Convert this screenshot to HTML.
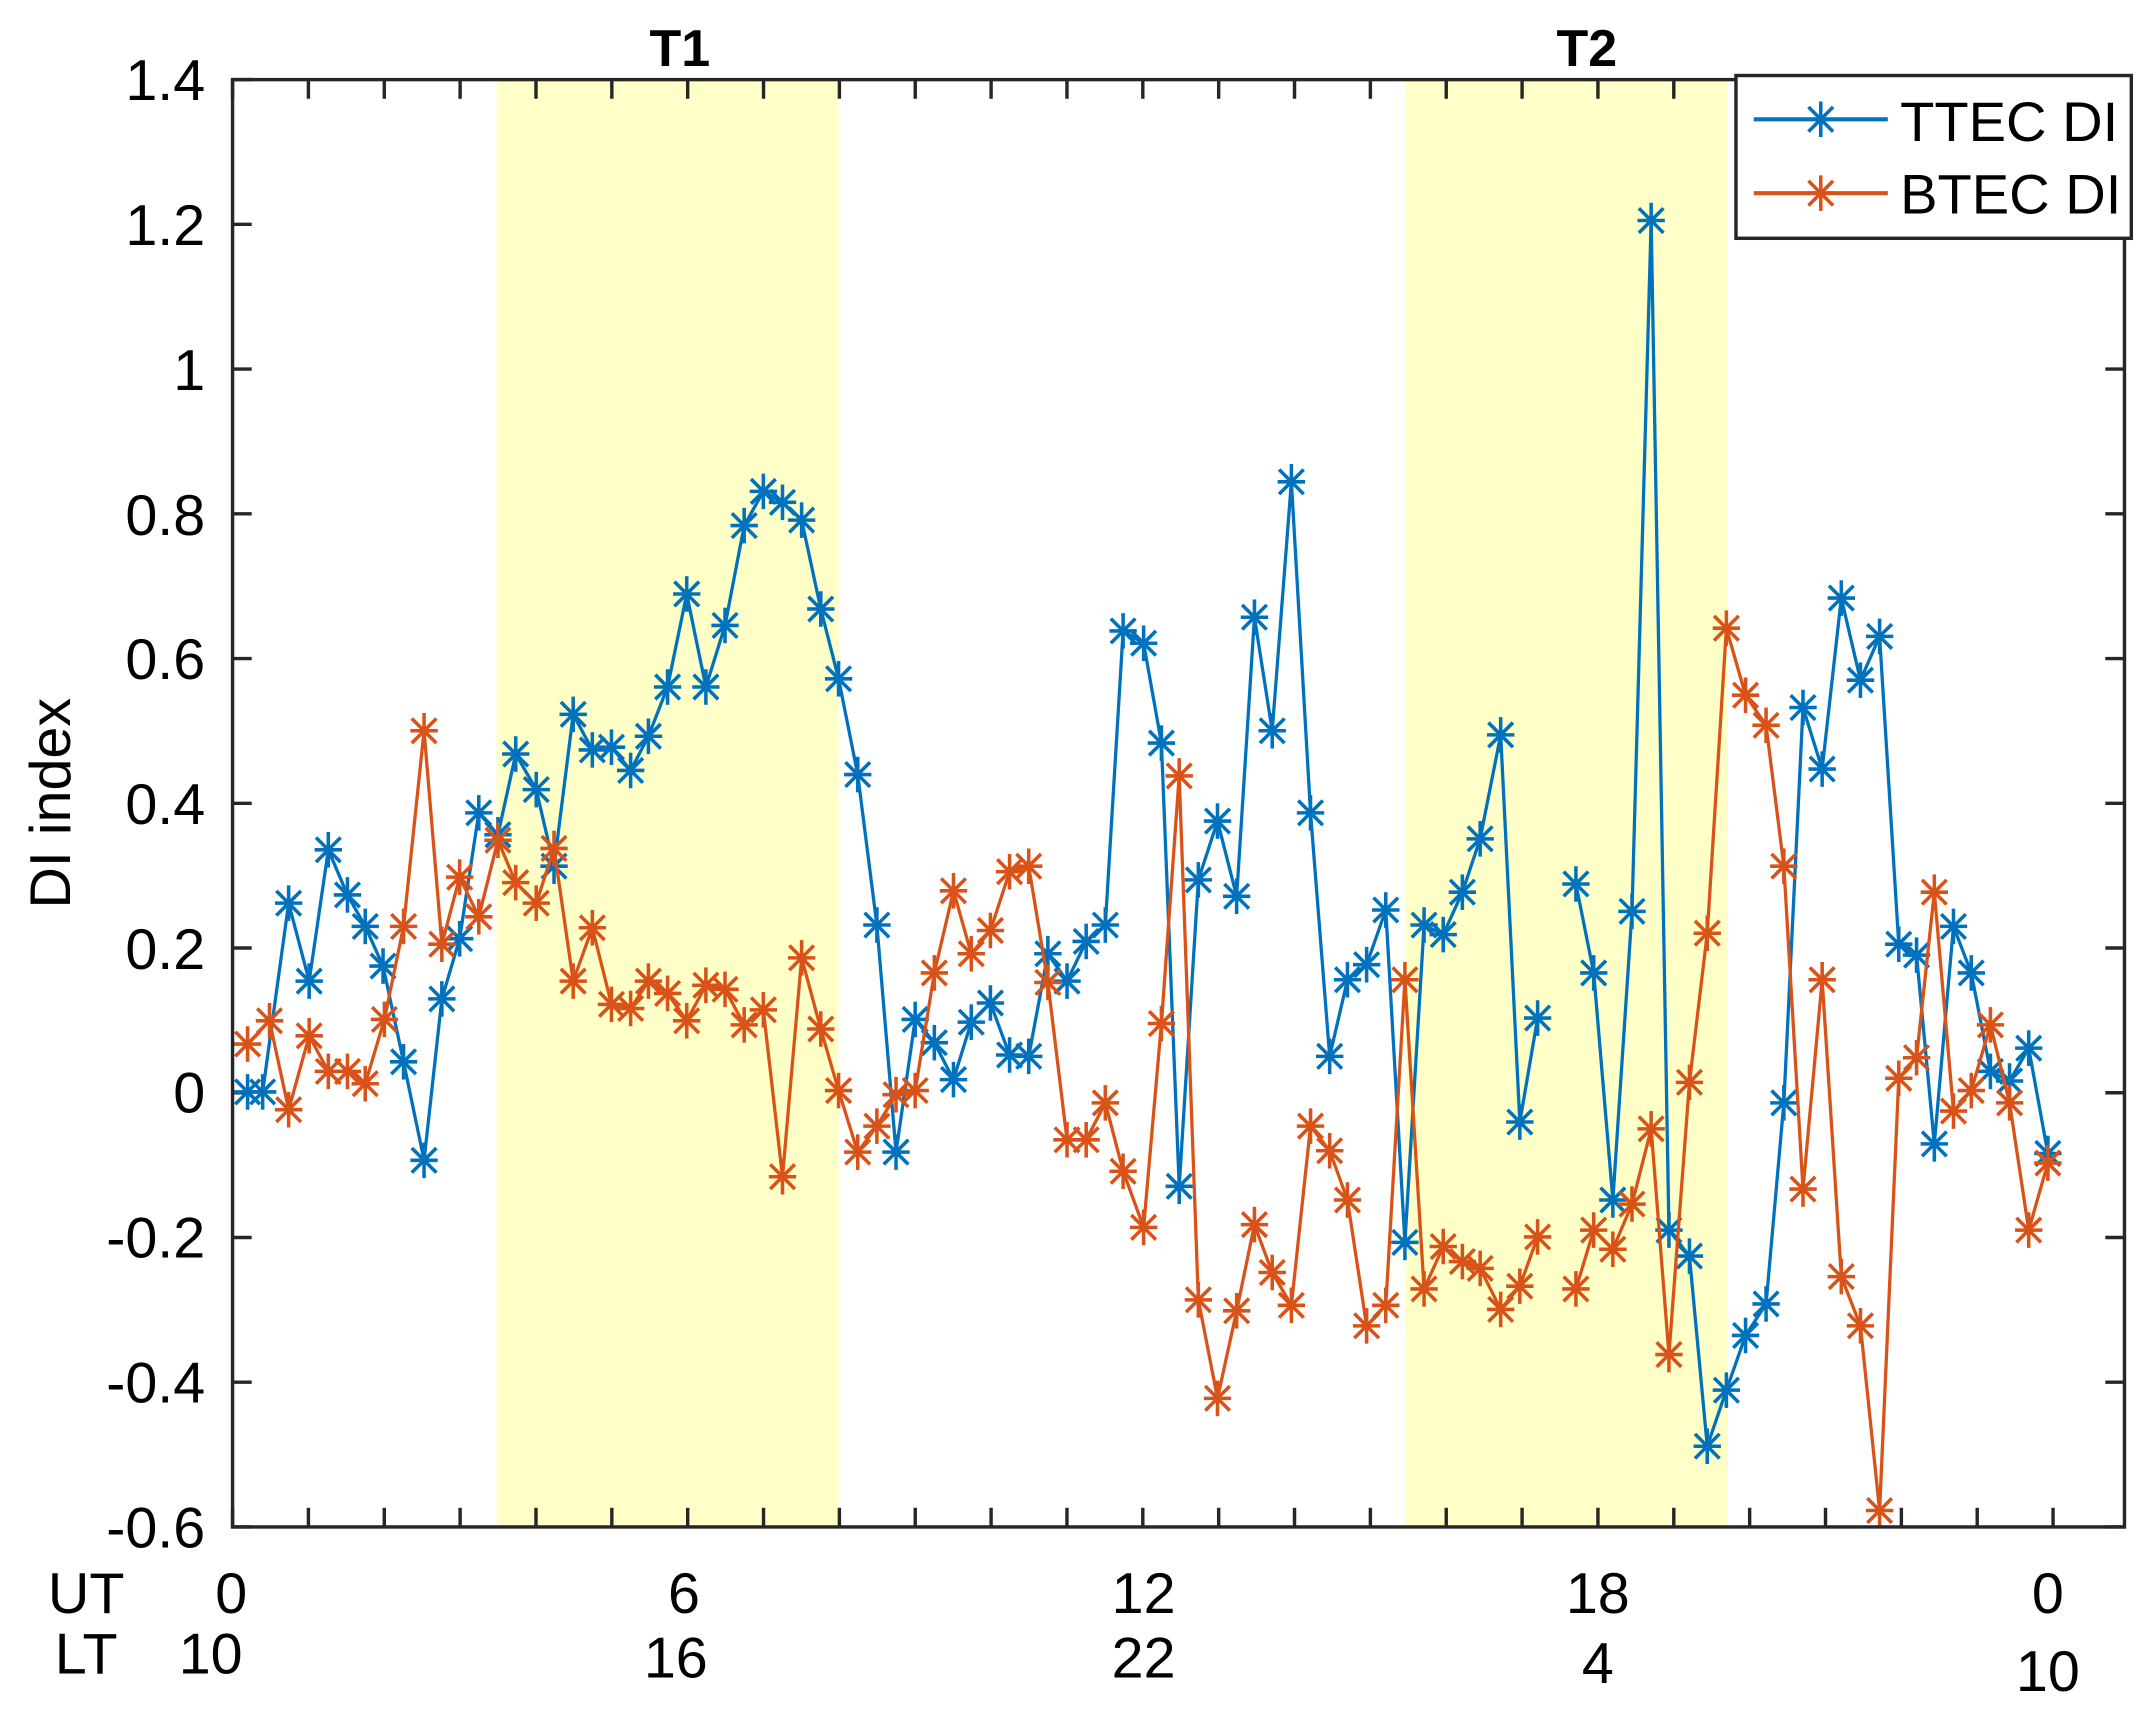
<!DOCTYPE html>
<html><head><meta charset="utf-8"><style>
html,body{margin:0;padding:0;background:#fff}
svg{display:block}
text{font-family:"Liberation Sans",Arial,sans-serif;fill:#000}
</style></head><body>
<svg id="s" xmlns="http://www.w3.org/2000/svg" width="2145" height="1716" viewBox="0 0 1568 1254">
<defs>
<g id="mk" stroke-width="2.6" fill="none">
<line x1="-10" y1="0" x2="10" y2="0"/><line x1="0" y1="-13" x2="0" y2="13"/>
<line x1="-9" y1="-9" x2="9" y2="9"/><line x1="-9" y1="9" x2="9" y2="-9"/>
</g>
</defs>
<rect x="363" y="58" width="250" height="1058" fill="#ffffc8"/>
<rect x="1027" y="58" width="236" height="1058" fill="#ffffc8"/>
<g id="ticks" stroke="#262626" stroke-width="2.5"></g>
<g id="series"></g>
<rect x="170" y="58" width="1383" height="1058" fill="none" stroke="#262626" stroke-width="2.5"/>
<g font-size="42" fill="#262626">
<text x="150" y="73" text-anchor="end">1.4</text>
<text x="150" y="179" text-anchor="end">1.2</text>
<text x="150" y="285" text-anchor="end">1</text>
<text x="150" y="391" text-anchor="end">0.8</text>
<text x="150" y="496" text-anchor="end">0.6</text>
<text x="150" y="602" text-anchor="end">0.4</text>
<text x="150" y="708" text-anchor="end">0.2</text>
<text x="150" y="813" text-anchor="end">0</text>
<text x="150" y="919" text-anchor="end">-0.2</text>
<text x="150" y="1025" text-anchor="end">-0.4</text>
<text x="150" y="1131" text-anchor="end">-0.6</text>
<text transform="translate(51,587) rotate(-90)" text-anchor="middle">DI index</text>
<text x="63" y="1179" text-anchor="middle">UT</text>
<text x="63" y="1223" text-anchor="middle">LT</text>
<text x="169" y="1179" text-anchor="middle">0</text>
<text x="500" y="1179" text-anchor="middle">6</text>
<text x="836" y="1179" text-anchor="middle">12</text>
<text x="1168" y="1179" text-anchor="middle">18</text>
<text x="1497" y="1179" text-anchor="middle">0</text>
<text x="154" y="1223" text-anchor="middle">10</text>
<text x="494" y="1226" text-anchor="middle">16</text>
<text x="836" y="1226" text-anchor="middle">22</text>
<text x="1168" y="1230" text-anchor="middle">4</text>
<text x="1497" y="1236" text-anchor="middle">10</text>
<text x="497" y="48" text-anchor="middle" font-weight="bold" font-size="38">T1</text>
<text x="1160" y="48" text-anchor="middle" font-weight="bold" font-size="38">T2</text>
</g>
<rect x="1269" y="55" width="289" height="119" fill="#fff" stroke="#262626" stroke-width="2.5"/>
<line x1="1282" y1="87" x2="1380" y2="87" stroke="#0072bd" stroke-width="3"/>
<use href="#mk" x="1331" y="87" stroke="#0072bd"/>
<line x1="1282" y1="141" x2="1380" y2="141" stroke="#d95319" stroke-width="3"/>
<use href="#mk" x="1331" y="141" stroke="#d95319"/>
<text x="1389" y="103" font-size="41">TTEC DI</text>
<text x="1389" y="156" font-size="41">BTEC DI</text>
</svg>
<script>
var NS="http://www.w3.org/2000/svg";
var t=document.getElementById("ticks");
function ln(x1,y1,x2,y2,p){var l=document.createElementNS(NS,"line");l.setAttribute("x1",x1);l.setAttribute("y1",y1);l.setAttribute("x2",x2);l.setAttribute("y2",y2);p.appendChild(l);}
for(var h=0;h<=25;h++){var x=170+h*55.45;if(x>1553)break;ln(x,1116,x,1102,t);ln(x,58,x,72,t);}
for(var i=0;i<=10;i++){var y=58+i*105.8;ln(170,y,184,y,t);ln(1553,y,1539,y,t);}
var T=[[[181,798],[192,798],[211,660],[226,717],[240,621],[254,654],[267,677],[280,706],[295,776],[310,848],[323,730],[336,686],[350,594],[364,610],[377,551],[392,577],[405,633],[419,522],[433,548],[447,546],[461,563],[474,538],[488,502],[502,434],[516,502],[530,457],[544,384],[558,359],[572,367],[586,380],[600,445],[613,496],[627,566],[641,676],[655,842],[669,745],[683,762],[697,789],[710,747],[724,733],[738,771],[752,772],[766,697],[780,717],[794,688],[808,676],[821,461],[836,470],[849,543],[862,867],[876,643],[890,600],[904,655],[917,451],[930,534],[944,352],[958,594],[972,772],[985,716],[999,705],[1013,665],[1027,908],[1041,676],[1055,683],[1069,652],[1082,613],[1097,537],[1111,820],[1124,744]],
[[1152,646],[1165,711],[1179,877],[1193,666],[1207,161],[1220,899],[1235,918],[1248,1057],[1262,1016],[1276,976],[1291,953],[1304,806],[1318,517],[1332,562],[1346,437],[1360,497],[1374,465],[1388,690],[1401,698],[1414,836],[1428,677],[1441,711],[1455,783],[1469,790],[1483,766],[1497,843]]];
var B=[[[181,763],[197,746],[211,811],[226,757],[240,783],[254,783],[267,792],[281,745],[295,677],[310,534],[323,690],[336,641],[350,670],[364,614],[377,645],[392,660],[405,620],[419,717],[433,678],[447,734],[461,737],[474,717],[488,726],[502,746],[516,720],[530,723],[544,749],[558,738],[572,860],[586,700],[600,752],[613,797],[627,842],[641,823],[655,800],[669,797],[683,711],[697,651],[710,697],[724,680],[738,637],[752,633],[766,718],[780,833],[794,833],[808,806],[821,856],[836,897],[849,748],[862,567],[876,950],[890,1022],[904,958],[917,895],[930,930],[944,954],[958,823],[972,841],[985,877],[999,969],[1013,954],[1027,716],[1041,942],[1055,911],[1069,922],[1082,927],[1097,957],[1111,940],[1124,904]],
[[1152,942],[1165,899],[1179,913],[1193,880],[1207,825],[1220,990],[1235,791],[1248,682],[1262,459],[1276,508],[1291,530],[1304,633],[1318,869],[1332,716],[1346,933],[1360,969],[1374,1104],[1388,788],[1401,773],[1414,652],[1428,812],[1441,797],[1455,749],[1469,806],[1483,899],[1497,850]]];
var g=document.getElementById("series");
function draw(S,c){S.forEach(function(seg){var p=document.createElementNS(NS,"polyline");p.setAttribute("points",seg.map(function(a){return a.join(",")}).join(" "));p.setAttribute("fill","none");p.setAttribute("stroke",c);p.setAttribute("stroke-width","2.4");g.appendChild(p);
seg.forEach(function(a){var u=document.createElementNS(NS,"use");u.setAttribute("href","#mk");u.setAttribute("x",a[0]);u.setAttribute("y",a[1]);u.setAttribute("stroke",c);g.appendChild(u);});});}
draw(T,"#0072bd");draw(B,"#d95319");
</script>
</body></html>
